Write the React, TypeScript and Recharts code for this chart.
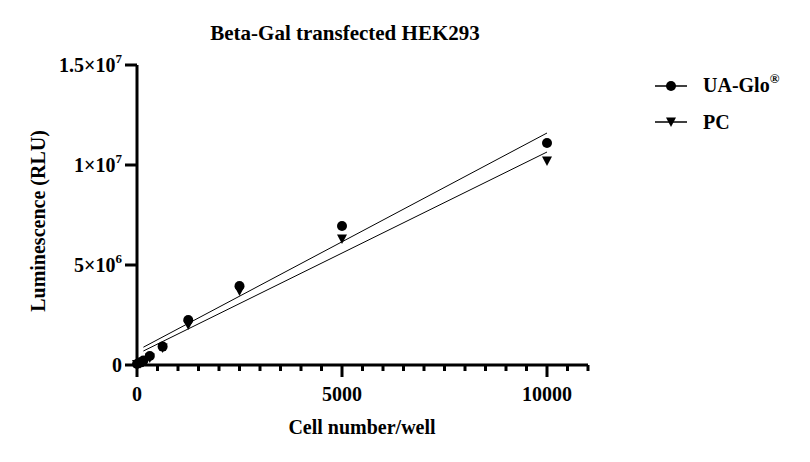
import React from 'react';
import { ScatterChart, Scatter, XAxis, YAxis } from 'recharts';

// cell number per well (x) and luminescence readings (RLU)
const cellNumbers = [0, 78, 156, 312, 625, 1250, 2500, 5000, 10000];
const uaGlo = [50000, 120000, 220000, 450000, 920000, 2250000, 3950000, 6950000, 11100000];
const pc = [30000, 80000, 150000, 350000, 850000, 2000000, 3700000, 6300000, 10200000];

// linear fit end points
const fitX = [156, 10000];
const uaGloFit = [890000, 11600000];
const pcFit = [700000, 10650000];

const xTicks = [0, 500, 1000, 1500, 2000, 2500, 3000, 3500, 4000, 4500, 5000, 5500, 6000, 6500, 7000, 7500, 8000, 8500, 9000, 9500, 10000, 10500, 11000];
const xLabels = [0, 5000, 10000];
const yTicks = [0, 5000000, 10000000, 15000000];
const yTickLabels: Record<number, [string, string]> = {
  0: ['0', ''],
  5000000: ['5×10', '6'],
  10000000: ['1×10', '7'],
  15000000: ['1.5×10', '7'],
};

const FONT = '"Liberation Serif", "Times New Roman", serif';

const uaData = cellNumbers.map((x, i) => ({ x, y: uaGlo[i] }));
const pcData = cellNumbers.map((x, i) => ({ x, y: pc[i] }));
const uaFitData = fitX.map((x, i) => ({ x, y: uaGloFit[i] }));
const pcFitData = fitX.map((x, i) => ({ x, y: pcFit[i] }));

const XTick = (props: any) => {
  const { x, y, payload } = props;
  const major = xLabels.includes(payload.value);
  return (
    <g>
      <line x1={x} x2={x} y1={y} y2={y + (major ? 12 : 6)} stroke="#000" strokeWidth={3} />
      {major && (
        <text x={x} y={y + 36} textAnchor="middle" fontFamily={FONT} fontWeight="bold" fontSize={20} fill="#000">
          {payload.value}
        </text>
      )}
    </g>
  );
};

const YTick = (props: any) => {
  const { x, y, payload } = props;
  const [base, exp] = yTickLabels[payload.value] || [String(payload.value), ''];
  return (
    <text x={x} y={y + 7} textAnchor="end" fontFamily={FONT} fontWeight="bold" fontSize={20} fill="#000">
      <tspan>{base}</tspan>
      {exp && <tspan dy={-9} fontSize={13}>{exp}</tspan>}
    </text>
  );
};

const Dot = (props: any) => <circle cx={props.cx} cy={props.cy} r={5} fill="#000" />;
const DownTriangle = (props: any) => {
  const { cx, cy } = props;
  return <polygon points={`${cx - 5},${cy - 4.5} ${cx + 5},${cy - 4.5} ${cx},${cy + 5}`} fill="#000" />;
};
const NoShape = () => <g />;

const ChartLegend = () => (
  <svg width={150} height={70} style={{ position: 'absolute', left: 650, top: 70 }}>
    <line x1={5} x2={37} y1={16} y2={16} stroke="#000" strokeWidth={1.5} />
    <circle cx={21} cy={16} r={5} fill="#000" />
    <text x={53} y={22} fontFamily={FONT} fontWeight="bold" fontSize={20} fill="#000">
      <tspan>UA-Glo</tspan>
      <tspan dy={-9} fontSize={13}>®</tspan>
    </text>
    <line x1={5} x2={37} y1={52} y2={52} stroke="#000" strokeWidth={1.5} />
    <polygon points="16,47.5 26,47.5 21,57" fill="#000" />
    <text x={53} y={59} fontFamily={FONT} fontWeight="bold" fontSize={20} fill="#000">PC</text>
  </svg>
);

const textStyle: React.CSSProperties = {
  position: 'absolute',
  fontFamily: FONT,
  fontWeight: 'bold',
  fontSize: 20,
  color: '#000',
  whiteSpace: 'nowrap',
  lineHeight: '20px',
};

export default function App() {
  return (
    <div style={{ position: 'absolute', left: 0, top: 0, width: 810, height: 462, background: '#fff' }}>
      <ScatterChart width={810} height={462} margin={{ top: 65, right: 222, bottom: 67, left: 37 }}>
        <XAxis
          type="number"
          dataKey="x"
          domain={[0, 11000]}
          ticks={xTicks}
          interval={0}
          tick={<XTick />}
          tickLine={false}
          tickSize={0}
          tickMargin={0}
          axisLine={{ stroke: '#000', strokeWidth: 3 }}
          height={30}
        />
        <YAxis
          type="number"
          dataKey="y"
          domain={[0, 15000000]}
          ticks={yTicks}
          interval={0}
          tick={<YTick />}
          tickLine={{ stroke: '#000', strokeWidth: 3 }}
          tickSize={12}
          tickMargin={3}
          axisLine={{ stroke: '#000', strokeWidth: 3 }}
          width={100}
        />
        <Scatter name="UA-Glo fit" data={uaFitData} line={{ stroke: '#000', strokeWidth: 1 }} shape={<NoShape />} isAnimationActive={false} legendType="none" />
        <Scatter name="PC fit" data={pcFitData} line={{ stroke: '#000', strokeWidth: 1 }} shape={<NoShape />} isAnimationActive={false} legendType="none" />
        <Scatter name="UA-Glo" data={uaData} shape={<Dot />} isAnimationActive={false} />
        <Scatter name="PC" data={pcData} shape={<DownTriangle />} isAnimationActive={false} />
      </ScatterChart>
      <div style={{ ...textStyle, fontSize: 21, left: 345, top: 23, transform: 'translateX(-50%)' }}>Beta-Gal transfected HEK293</div>
      <div style={{ ...textStyle, left: 362, top: 417, transform: 'translateX(-50%)' }}>Cell number/well</div>
      <div style={{ ...textStyle, left: 38, top: 221, transform: 'translate(-50%, -50%) rotate(-90deg)' }}>Luminescence (RLU)</div>
      <ChartLegend />
    </div>
  );
}
